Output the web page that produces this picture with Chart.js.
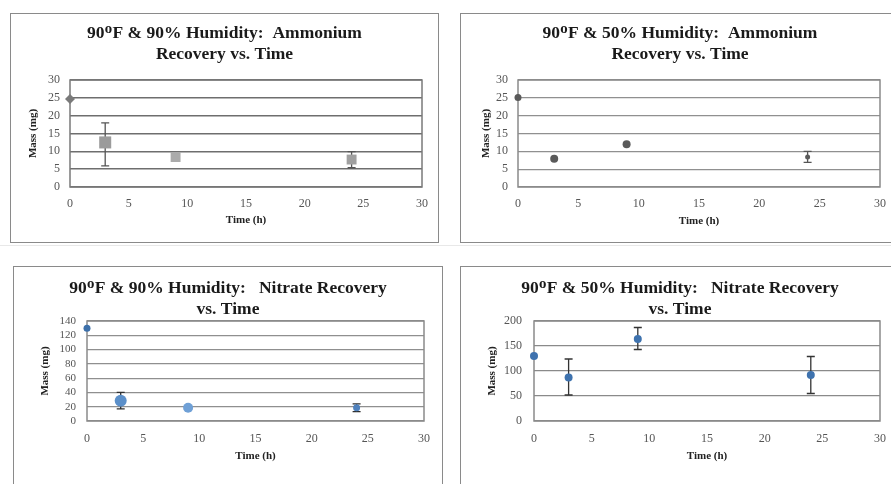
<!DOCTYPE html>
<html><head><meta charset="utf-8">
<script src="https://cdn.jsdelivr.net/npm/chart.js@4.4.1/dist/chart.umd.min.js"></script>
<style>
html,body{margin:0;padding:0;background:#fff;width:891px;height:484px;overflow:hidden;position:relative;}
.box{position:absolute;border:1.5px solid #8a8a8a;box-sizing:border-box;background:#fff;}
canvas{position:absolute;}
</style></head><body>
<div style="position:absolute;left:0;top:245px;width:891px;height:1px;background:#e8e8e8"></div>
<script>
// ---------- data ----------
const times = [0, 3, 9, 24];
const xTickValues = [0, 5, 10, 15, 20, 25, 30];

const amm90Title = ['90\u1D3CF & 90% Humidity:  Ammonium', 'Recovery vs. Time'];
const amm90Mass = [24.7, 12.5, 8.4, 7.7];
const amm90Low  = [null, 5.9, null, 5.4];
const amm90High = [null, 18.0, null, 9.9];
const amm90YTicks = [0, 5, 10, 15, 20, 25, 30];

const amm50Title = ['90\u1D3CF & 50% Humidity:  Ammonium', 'Recovery vs. Time'];
const amm50Mass = [25.1, 7.9, 12.0, 8.4];
const amm50Low  = [null, null, null, 6.9];
const amm50High = [null, null, null, 10.0];
const amm50YTicks = [0, 5, 10, 15, 20, 25, 30];

const nit90Title = ['90\u1D3CF & 90% Humidity:   Nitrate Recovery', 'vs. Time'];
const nit90Mass = [130, 28.5, 18.5, 18.5];
const nit90Low  = [null, 17, null, 13];
const nit90High = [null, 40, null, 24];
const nit90YTicks = [0, 20, 40, 60, 80, 100, 120, 140];

const nit50Title = ['90\u1D3CF & 50% Humidity:   Nitrate Recovery', 'vs. Time'];
const nit50Mass = [130, 87, 164, 92];
const nit50Low  = [null, 52, 143, 55];
const nit50High = [null, 124, 187, 129];
const nit50YTicks = [0, 50, 100, 150, 200];

const xAxisTitle = 'Time (h)';
const yAxisTitle = 'Mass (mg)';

// ---------- drawing ----------
const SERIF = "'Liberation Serif', 'DejaVu Serif', 'Times New Roman', serif";

const framePlugin = {
  id: 'frameErr',
  beforeDatasetsDraw(chart, args, opts) {
    const {ctx, chartArea: a} = chart;
    ctx.save();
    ctx.strokeStyle = opts.color; ctx.lineWidth = opts.width;
    ctx.strokeRect(a.left, a.top, a.right - a.left, a.bottom - a.top);
    const xs = chart.scales.x, ys = chart.scales.y;
    chart.data.datasets.forEach(ds => {
      if (!ds.errLow) return;
      ctx.strokeStyle = ds.errColor; ctx.lineWidth = ds.errWidth;
      const cap = ds.errCap;
      ds.data.forEach((pt, i) => {
        const lo = ds.errLow[i], hi = ds.errHigh[i];
        if (lo == null || hi == null) return;
        const px = xs.getPixelForValue(pt.x);
        const pl = ys.getPixelForValue(lo), ph = ys.getPixelForValue(hi);
        ctx.beginPath();
        ctx.moveTo(px, pl); ctx.lineTo(px, ph);
        ctx.moveTo(px - cap, pl); ctx.lineTo(px + cap, pl);
        ctx.moveTo(px - cap, ph); ctx.lineTo(px + cap, ph);
        ctx.stroke();
      });
    });
    ctx.restore();
  }
};

function build(p) {
  const [bl, bt, bw, bh] = p.box;
  const [al, at, ar, ab] = p.area;
  const box = document.createElement('div');
  box.className = 'box';
  Object.assign(box.style, {left: bl + 'px', top: bt + 'px', width: bw + 'px', height: bh + 'px'});
  document.body.appendChild(box);
  const cl = bl + 1, ct = bt + 1, cw = bw - 2, ch = bh - 2;
  const cv = document.createElement('canvas');
  cv.width = cw; cv.height = ch;
  Object.assign(cv.style, {left: cl + 'px', top: ct + 'px', width: cw + 'px', height: ch + 'px'});
  document.body.appendChild(cv);

  const P = cl + cw - ar;
  const titleLH = 21;
  const padTop = p.titleY - titleLH / 2 - ct;
  const titlePadBottom = at - ct - padTop - 2 * titleLH;
  const yWidth = al - cl - P;
  const xHeight = ct + ch - ab;
  const axLH = 13.2;
  const yTitlePad = Math.max(0, p.yTitleX - cl - P - axLH / 2);
  const xTitlePadBottom = ct + ch - p.xTitleY - axLH / 2;
  const xTickPad = p.xTickY - 6 - ab;
  const yt = p.yTicks;

  const pts = times.map((t, i) => ({x: t, y: p.mass[i]}));
  new Chart(cv, {
    type: 'scatter',
    data: {datasets: [{
      data: pts,
      pointStyle: p.pointStyle,
      pointRadius: p.pointRadius,
      pointBackgroundColor: p.pointColor,
      pointBorderColor: p.pointColor,
      pointBorderWidth: 0,
      showLine: false,
      clip: false,
      errLow: p.low, errHigh: p.high,
      errColor: p.errColor, errWidth: 1.3, errCap: 4
    }]},
    options: {
      responsive: false, animation: false,
      layout: {padding: {left: P, right: P, top: padTop, bottom: 0}},
      plugins: {
        legend: {display: false}, tooltip: {enabled: false},
        title: {display: true, text: p.title, color: '#1a1a1a',
          font: {family: SERIF, size: 17.5, weight: 'bold', lineHeight: titleLH + 'px'},
          padding: {top: 0, bottom: titlePadBottom}},
        frameErr: {color: p.frameColor, width: 1.5}
      },
      scales: {
        x: {type: 'linear', min: xTickValues[0], max: xTickValues[xTickValues.length - 1],
          ticks: {stepSize: xTickValues[1] - xTickValues[0], color: '#555', padding: xTickPad,
            font: {family: SERIF, size: 12}, maxRotation: 0, autoSkip: false},
          grid: {display: false, drawTicks: false}, border: {display: false},
          title: {display: true, text: xAxisTitle, color: '#222',
            font: {family: SERIF, size: 11, weight: 'bold', lineHeight: 1.2},
            padding: {top: 0, bottom: xTitlePadBottom}},
          afterFit(s) { s.height = xHeight; }
        },
        y: {type: 'linear', min: yt[0], max: yt[yt.length - 1],
          ticks: {stepSize: yt[1] - yt[0], color: '#555', padding: p.yTickPad, autoSkip: false,
            font: {family: SERIF, size: p.yTickSize || 12}},
          grid: {color: p.gridColor, lineWidth: p.gridWidth, drawTicks: false}, border: {display: false},
          title: {display: true, text: yAxisTitle, color: '#222',
            font: {family: SERIF, size: 11, weight: 'bold', lineHeight: 1.2},
            padding: {top: yTitlePad, bottom: 0}},
          afterFit(s) { s.width = yWidth; }
        }
      }
    },
    plugins: [framePlugin]
  });
}

build({box: [10, 13, 429, 230], area: [70, 80, 423, 187], titleY: 33, yTitleX: 33, xTickY: 203, xTitleY: 220, yTickPad: 10,
  title: amm90Title, mass: amm90Mass, low: amm90Low, high: amm90High, yTicks: amm90YTicks,
  pointStyle: ['rectRot', 'rect', 'rect', 'rect'], pointRadius: [5, 8.5, 7, 7],
  pointColor: ['#7a7a7a', '#9b9b9b', '#ababab', '#a0a0a0'], errColor: '#555',
  gridColor: '#6e6e6e', gridWidth: 1.6, frameColor: '#7a7a7a'});

build({box: [460, 13, 440, 230], area: [518, 80, 880, 187], titleY: 33, yTitleX: 485, xTickY: 203, xTitleY: 221, yTickPad: 10,
  title: amm50Title, mass: amm50Mass, low: amm50Low, high: amm50High, yTicks: amm50YTicks,
  pointStyle: 'circle', pointRadius: [3.5, 4, 4, 2.5],
  pointColor: '#5a5a5a', errColor: '#555',
  gridColor: '#909090', gridWidth: 1.3, frameColor: '#8a8a8a'});

build({box: [13, 266, 430, 230], area: [87, 321, 424, 421], titleY: 288, yTitleX: 45, xTickY: 438, xTitleY: 456, yTickPad: 11, yTickSize: 11,
  title: nit90Title, mass: nit90Mass, low: nit90Low, high: nit90High, yTicks: nit90YTicks,
  pointStyle: 'circle', pointRadius: [3.5, 6, 5, 3.5],
  pointColor: ['#3d70aa', '#5b8fc9', '#6fa0d6', '#4f81bd'], errColor: '#2f2f2f',
  gridColor: '#8f8f8f', gridWidth: 1.2, frameColor: '#8a8a8a'});

build({box: [460, 266, 440, 230], area: [534, 321, 880, 421], titleY: 288, yTitleX: 492, xTickY: 438, xTitleY: 456, yTickPad: 12,
  title: nit50Title, mass: nit50Mass, low: nit50Low, high: nit50High, yTicks: nit50YTicks,
  pointStyle: 'circle', pointRadius: 4,
  pointColor: '#3e72ae', errColor: '#333',
  gridColor: '#8a8a8a', gridWidth: 1.3, frameColor: '#8a8a8a'});
</script>
</body></html>
